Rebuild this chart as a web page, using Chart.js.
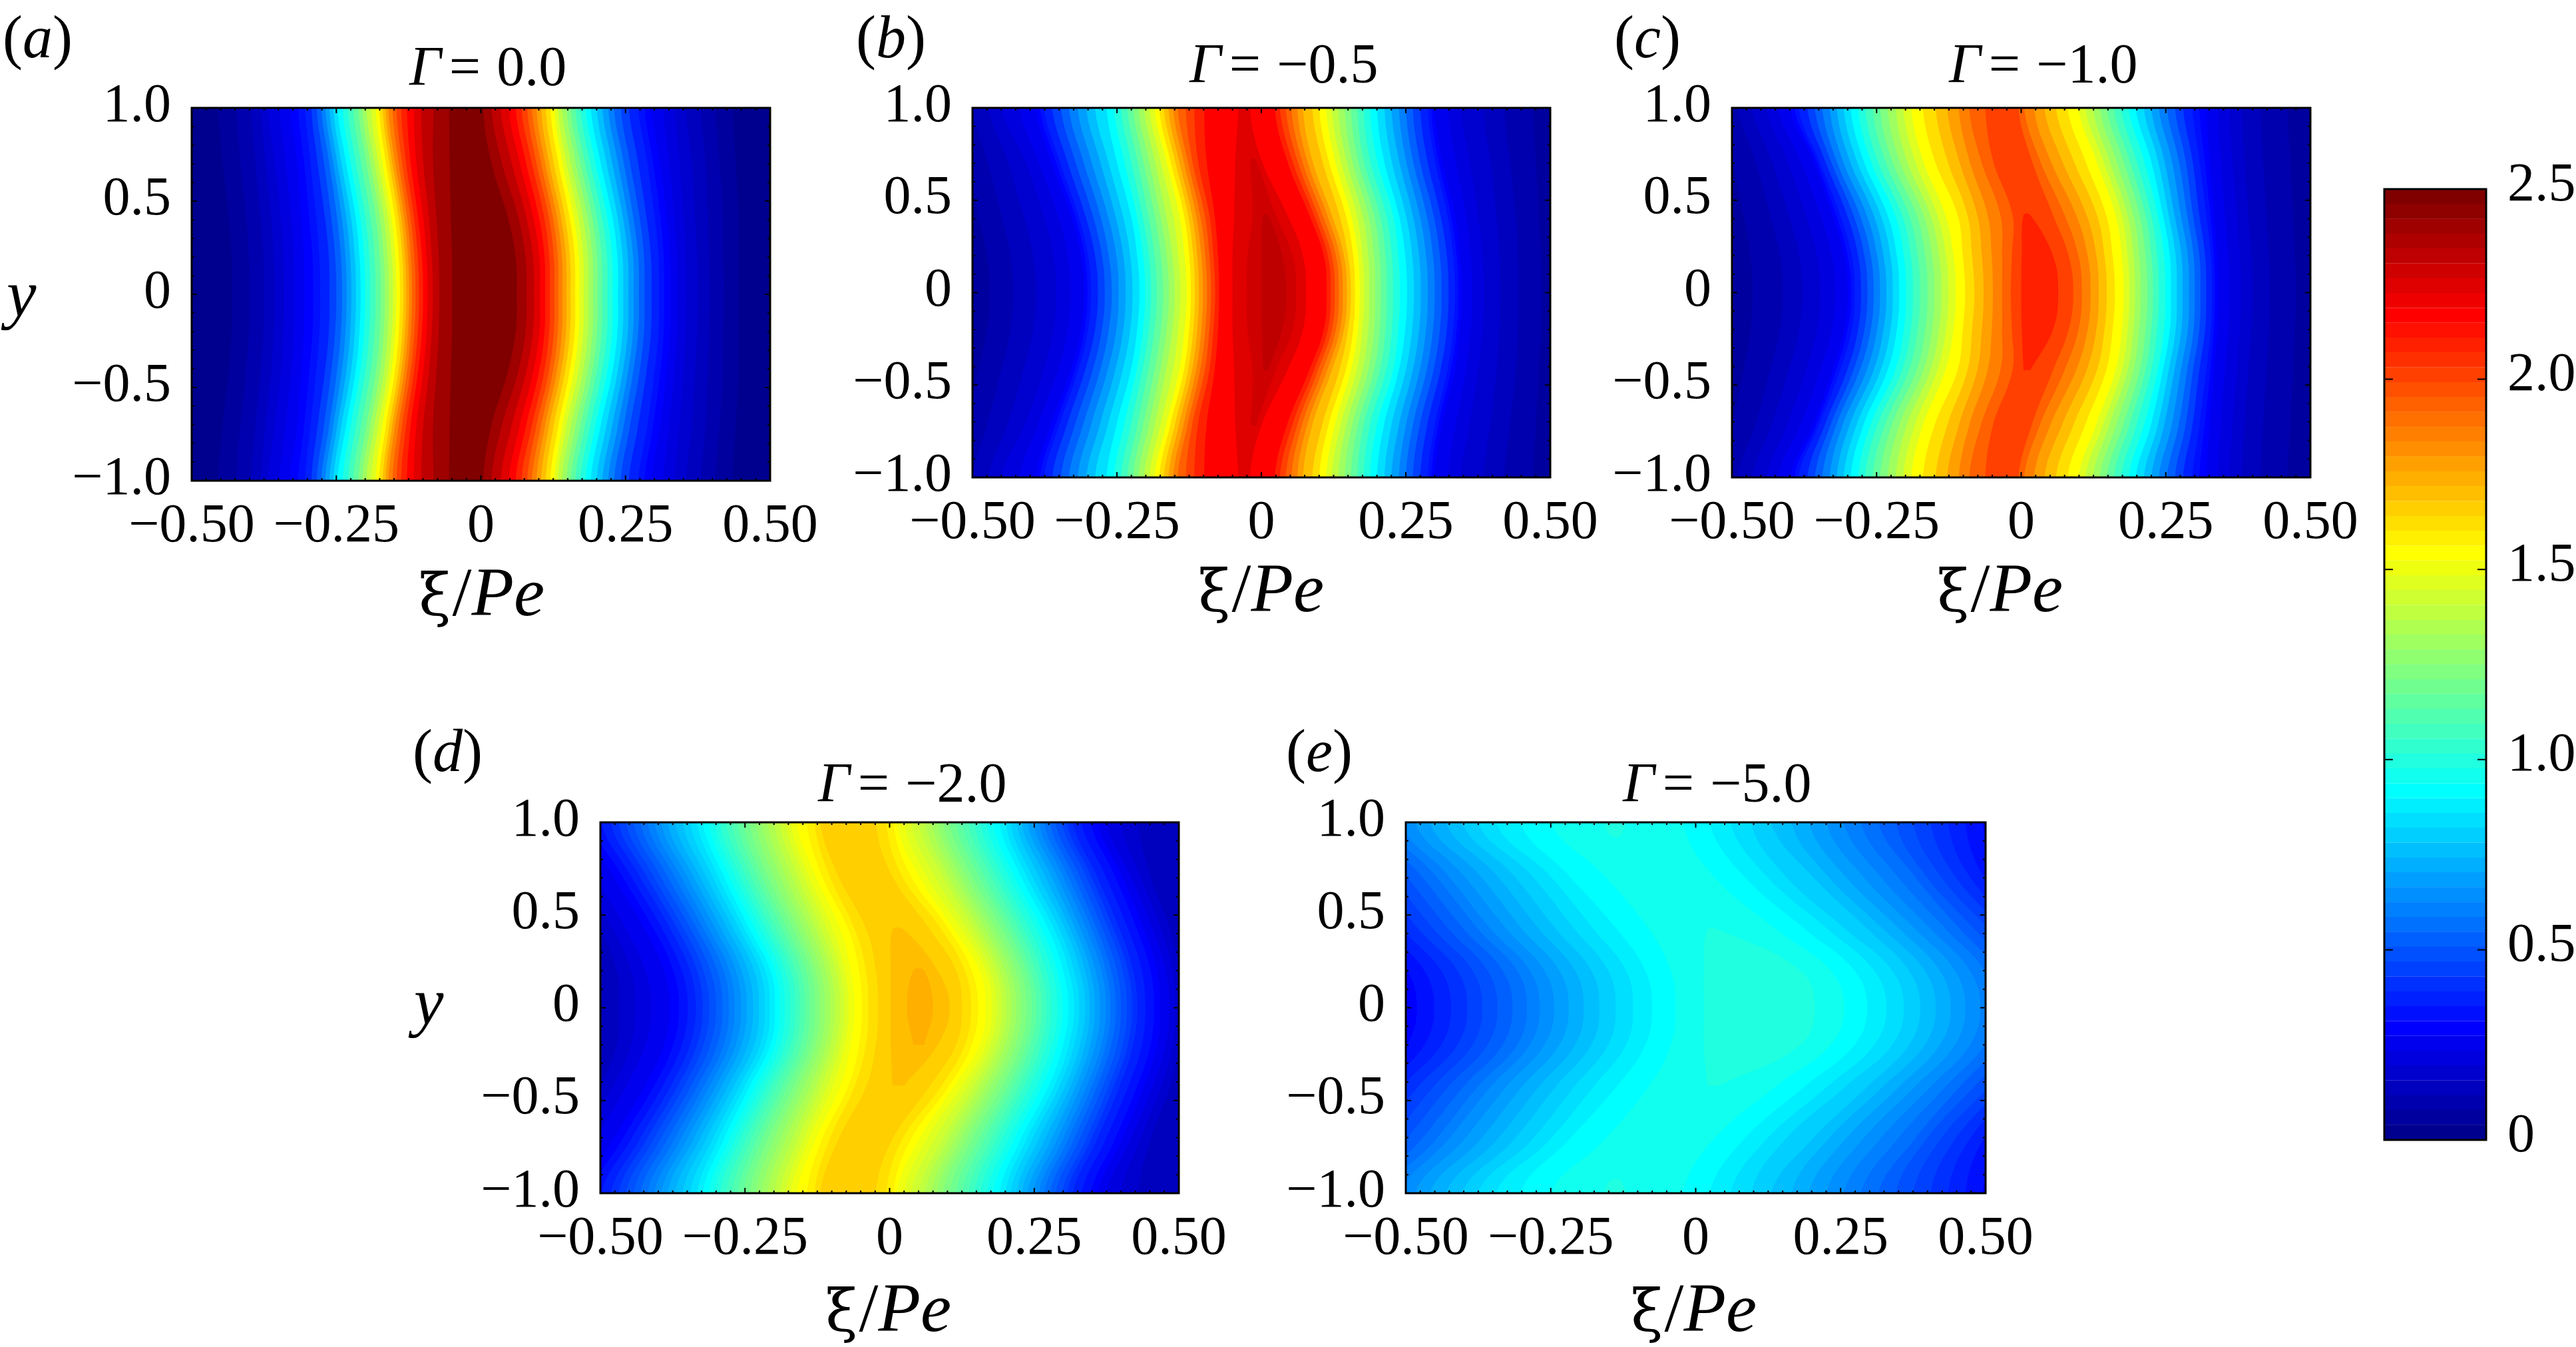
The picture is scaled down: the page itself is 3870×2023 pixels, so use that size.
<!DOCTYPE html>
<html>
<head>
<meta charset="utf-8">
<title>Contours</title>
<script src="https://cdn.jsdelivr.net/npm/chart.js@4"></script>
<style>
  html, body { margin: 0; padding: 0; background: #fff; width: 3870px; height: 2023px; overflow: hidden; }
  canvas { position: absolute; }
  .txt { position: absolute; white-space: nowrap; font-family: "Liberation Serif", serif; color: #000; line-height: 1; }
  .txt i { font-style: italic; }
</style>
</head>
<body>
<script>
// heights (y >= 0) where every contour's xi position was read; the lower half mirrors these
const yNodes = [0, 0.2, 0.42, 0.72, 1];

// x tick labels / y tick labels / colour bar labels
const xTickValues = [-0.5, -0.25, 0, 0.25, 0.5];
const xTickText = ["\u22120.50", "\u22120.25", "0", "0.25", "0.50"];
const yTickValues = [-1, -0.5, 0, 0.5, 1];
const yTickText = ["\u22121.0", "\u22120.5", "0", "0.5", "1.0"];
const barTickValues = [0, 0.5, 1, 1.5, 2, 2.5];
const barTickText = ["0", "0.5", "1.0", "1.5", "2.0", "2.5"];
const barBandCount = 64;
const barBandSize = 2.5 / barBandCount;

// Panel a, Gamma = 0.0: colour band of each contour, left and right branch positions
const bandsA = [0,1,2,3,4,5,6,7,8,9,11,13,15,17,19,21,23,25,27,29,31,33,35,37,39,41,43,45,47,49,51,53,55,57,59,61,63];
const leftA = [
  [-.9,-.9,-.9,-.9,-.9],
  [-.43,-.431,-.436,-.447,-.454],[-.4,-.401,-.406,-.416,-.423],[-.375,-.376,-.381,-.39,-.397],
  [-.357,-.358,-.363,-.373,-.38],[-.34,-.341,-.346,-.357,-.368],[-.322,-.323,-.328,-.338,-.348],
  [-.305,-.306,-.311,-.318,-.33],[-.29,-.291,-.297,-.306,-.316],[-.278,-.279,-.285,-.295,-.304],[-.262,-.263,-.27,-.283,-.293],
  [-.25,-.252,-.259,-.272,-.284],[-.24,-.242,-.249,-.263,-.276],[-.232,-.234,-.241,-.256,-.269],
  [-.224,-.226,-.233,-.249,-.262],[-.216,-.218,-.225,-.242,-.255],[-.208,-.21,-.217,-.234,-.248],
  [-.2,-.202,-.209,-.226,-.239],[-.191,-.193,-.2,-.217,-.23],[-.182,-.184,-.191,-.208,-.221],
  [-.173,-.175,-.182,-.199,-.212],[-.166,-.168,-.175,-.192,-.205],[-.159,-.161,-.168,-.185,-.198],
  [-.152,-.154,-.161,-.178,-.19],[-.146,-.148,-.155,-.171,-.182],[-.14,-.142,-.149,-.165,-.176],
  [-.134,-.136,-.143,-.159,-.17],[-.129,-.131,-.138,-.154,-.165],[-.124,-.126,-.133,-.149,-.16],
  [-.119,-.121,-.128,-.143,-.153],[-.113,-.115,-.122,-.137,-.146],[-.107,-.109,-.116,-.13,-.138],
  [-.1,-.102,-.109,-.122,-.128],[-.092,-.094,-.1,-.112,-.116],[-.083,-.085,-.09,-.1,-.103],
  [-.072,-.073,-.077,-.083,-.082],[-.05,-.05,-.052,-.054,-.055]
];
const rightA = [
  [.9,.9,.9,.9,.9],
  [.445,.445,.445,.44,.435],[.42,.419,.418,.412,.405],[.395,.394,.392,.388,.38],
  [.375,.374,.37,.364,.355],[.355,.354,.35,.343,.335],[.34,.339,.334,.325,.315],
  [.328,.327,.321,.309,.295],[.317,.316,.31,.297,.283],[.308,.307,.3,.287,.272],[.295,.294,.286,.271,.256],
  [.283,.282,.274,.257,.242],[.273,.272,.263,.246,.23],[.264,.263,.254,.236,.22],
  [.255,.254,.245,.226,.21],[.246,.245,.236,.216,.2],[.237,.236,.227,.206,.19],
  [.228,.227,.218,.197,.181],[.219,.218,.209,.188,.172],[.21,.209,.2,.179,.163],
  [.202,.201,.192,.171,.155],[.194,.193,.184,.163,.148],[.186,.185,.176,.155,.14],
  [.178,.177,.168,.147,.133],[.17,.169,.16,.14,.127],[.163,.162,.153,.133,.12],
  [.155,.154,.145,.125,.112],[.148,.147,.138,.117,.104],[.141,.14,.131,.11,.096],
  [.134,.133,.124,.103,.088],[.127,.126,.117,.095,.08],[.119,.118,.109,.087,.07],
  [.111,.11,.1,.077,.06],[.102,.101,.09,.066,.048],[.092,.09,.078,.052,.034],
  [.079,.077,.064,.035,.018],[.062,.06,.046,.017,.004]
];

// Panel b, Gamma = -0.5
const bandsB = [1,2,3,4,5,6,7,8,9,11,13,15,17,19,21,23,25,27,29,31,33,35,37,39,41,43,45,47,49,51,53,55,57,58,59];
const leftB = [
  [-.9,-.9,-.9,-.9,-.9],
  [-.47,-.475,-.49,-.51,-.53],[-.43,-.434,-.45,-.475,-.5],[-.39,-.395,-.412,-.44,-.472],[-.355,-.36,-.377,-.41,-.45],
  [-.33,-.335,-.352,-.387,-.418],[-.307,-.312,-.33,-.365,-.39],[-.301,-.306,-.323,-.357,-.383],
  [-.295,-.3,-.317,-.35,-.376],[-.283,-.288,-.305,-.337,-.362],
  [-.271,-.276,-.292,-.323,-.347],[-.259,-.264,-.279,-.309,-.333],[-.247,-.251,-.266,-.295,-.318],
  [-.235,-.239,-.253,-.28,-.303],[-.223,-.227,-.24,-.266,-.288],[-.211,-.215,-.226,-.251,-.268],
  [-.201,-.205,-.216,-.238,-.255],[-.191,-.195,-.206,-.226,-.243],[-.181,-.185,-.196,-.215,-.232],
  [-.17,-.174,-.185,-.205,-.222],[-.16,-.164,-.175,-.195,-.213],[-.15,-.154,-.165,-.185,-.203],
  [-.14,-.144,-.153,-.175,-.194],[-.129,-.133,-.142,-.165,-.185],[-.122,-.125,-.134,-.158,-.177],
  [-.115,-.118,-.127,-.15,-.169],[-.108,-.111,-.12,-.143,-.161],[-.101,-.104,-.113,-.135,-.153],
  [-.094,-.097,-.106,-.128,-.145],[-.087,-.09,-.098,-.12,-.131],[-.08,-.083,-.09,-.11,-.116],
  [-.073,-.075,-.081,-.095,-.099],[-.05,-.05,-.047,-.045,-.04],[-.025,-.024,-.015,-.018,null],
  [0,.001,.003,null,null]
];
const rightB = [
  [.9,.9,.9,.9,.9],
  [.485,.484,.48,.475,.47],[.445,.444,.44,.43,.42],[.413,.412,.407,.396,.384],[.385,.383,.375,.36,.345],
  [.365,.362,.354,.336,.323],[.347,.344,.335,.312,.3],[.341,.338,.328,.306,.294],
  [.335,.332,.322,.3,.288],[.324,.321,.31,.287,.275],
  [.312,.309,.298,.274,.262],[.3,.297,.286,.262,.25],[.288,.285,.274,.25,.238],
  [.276,.273,.262,.238,.225],[.264,.261,.25,.225,.213],[.252,.249,.238,.212,.2],
  [.24,.237,.228,.2,.188],[.228,.226,.216,.188,.177],[.217,.215,.205,.177,.166],
  [.207,.205,.195,.167,.155],[.197,.195,.185,.157,.144],[.187,.185,.175,.147,.133],
  [.178,.175,.165,.137,.122],[.17,.167,.155,.127,.112],[.162,.159,.146,.116,.1],
  [.155,.15,.135,.105,.088],[.148,.143,.122,.088,.072],[.141,.136,.114,.079,.062],
  [.134,.129,.106,.07,.052],[.127,.122,.098,.062,.042],[.12,.115,.091,.053,.032],
  [.113,.108,.083,.044,.023],[.077,.072,.045,0,-.02],[.06,.054,.025,-.01,null],
  [.044,.036,.012,null,null]
];

// Panel c, Gamma = -1.0
const bandsC = [1,2,3,4,5,6,7,8,9,11,13,15,17,19,21,23,25,27,29,31,33,35,37,39,41,43,45,47,49,51,53];
const leftC = [
  [-.9,-.9,-.9,-.9,-.9],
  [-.464,-.468,-.48,-.5,-.525],[-.412,-.417,-.434,-.46,-.49],[-.378,-.384,-.402,-.432,-.465],[-.347,-.353,-.372,-.405,-.44],
  [-.321,-.327,-.347,-.382,-.42],[-.3,-.306,-.326,-.36,-.4],[-.294,-.3,-.32,-.355,-.392],
  [-.288,-.293,-.313,-.35,-.385],[-.277,-.282,-.301,-.34,-.37],
  [-.266,-.271,-.29,-.33,-.357],[-.255,-.26,-.279,-.32,-.344],[-.244,-.249,-.267,-.309,-.331],
  [-.233,-.238,-.255,-.297,-.319],[-.222,-.226,-.243,-.285,-.307],[-.211,-.215,-.231,-.273,-.295],
  [-.199,-.203,-.218,-.261,-.282],[-.187,-.191,-.206,-.249,-.27],[-.175,-.179,-.194,-.236,-.257],
  [-.162,-.166,-.181,-.224,-.244],[-.15,-.154,-.169,-.211,-.231],[-.138,-.142,-.157,-.198,-.217],
  [-.126,-.13,-.145,-.184,-.204],[-.113,-.117,-.131,-.17,-.19],[-.097,-.101,-.11,-.15,-.17],
  [-.081,-.085,-.093,-.128,-.148],[-.065,-.068,-.076,-.108,-.128],[-.049,-.051,-.058,-.09,-.108],
  [-.033,-.033,-.036,-.07,-.09],[-.018,-.016,-.015,-.049,-.062],[0,.001,.004,null,null]
];
const rightC = [
  [.9,.9,.9,.9,.9],
  [.475,.473,.47,.465,.46],[.43,.428,.424,.418,.414],[.4,.398,.393,.386,.382],[.38,.378,.373,.365,.36],
  [.36,.358,.352,.345,.34],[.341,.339,.333,.326,.32],[.335,.333,.327,.317,.308],
  [.33,.328,.32,.308,.296],[.32,.318,.308,.296,.28],
  [.31,.308,.297,.284,.266],[.3,.298,.287,.272,.252],[.29,.288,.276,.26,.238],
  [.279,.277,.265,.247,.225],[.269,.267,.255,.236,.212],[.259,.257,.245,.224,.198],
  [.249,.247,.236,.212,.186],[.238,.235,.225,.199,.173],[.228,.225,.215,.187,.16],
  [.218,.215,.205,.176,.148],[.207,.204,.194,.164,.136],[.197,.194,.184,.152,.124],
  [.187,.184,.174,.141,.111],[.177,.174,.163,.129,.099],[.162,.158,.147,.11,.08],
  [.148,.144,.131,.09,.06],[.134,.13,.113,.07,.04],[.12,.115,.095,.05,.022],
  [.105,.099,.075,.032,.005],[.09,.082,.055,.018,-.005],[.064,.055,.016,null,null]
];

// Panel d, Gamma = -2.0
const bandsD = [3,4,5,6,7,8,9,10,11,12,13,14,15,16,17,18,19,20,21,22,23,24,25,26,27,28,29,30,31,32,33,34,35,36,37,38,39,40,41,42,43,44];
const leftD = [
  [-.9,-.9,-.9,-.9,-.9],
  [-.468,-.472,-.5,-.56,-.62],[-.44,-.447,-.478,-.535,-.59],[-.412,-.422,-.455,-.51,-.56],[-.38,-.39,-.423,-.48,-.53],
  [-.364,-.374,-.407,-.464,-.514],[-.349,-.359,-.392,-.449,-.498],[-.335,-.345,-.378,-.434,-.482],[-.323,-.333,-.366,-.422,-.469],
  [-.312,-.322,-.355,-.41,-.456],[-.3,-.31,-.343,-.398,-.443],[-.289,-.298,-.332,-.386,-.431],[-.278,-.287,-.321,-.374,-.419],
  [-.268,-.277,-.311,-.363,-.407],[-.257,-.266,-.3,-.352,-.395],[-.247,-.256,-.29,-.341,-.384],[-.236,-.245,-.279,-.33,-.371],
  [-.226,-.234,-.269,-.319,-.358],[-.216,-.224,-.259,-.308,-.345],[-.207,-.215,-.25,-.298,-.333],[-.198,-.206,-.241,-.288,-.323],
  [-.19,-.198,-.232,-.279,-.313],[-.181,-.189,-.222,-.269,-.303],[-.172,-.18,-.213,-.26,-.293],[-.163,-.171,-.204,-.25,-.283],
  [-.155,-.163,-.195,-.241,-.273],[-.146,-.154,-.185,-.231,-.263],[-.138,-.145,-.176,-.222,-.253],[-.129,-.136,-.166,-.212,-.242],
  [-.121,-.128,-.157,-.202,-.232],[-.112,-.119,-.147,-.191,-.221],[-.103,-.11,-.137,-.181,-.211],[-.095,-.102,-.127,-.17,-.2],
  [-.086,-.093,-.118,-.16,-.19],[-.078,-.085,-.108,-.15,-.18],[-.071,-.077,-.098,-.141,-.171],
  [-.061,-.067,-.085,-.129,-.16],[-.048,-.053,-.071,-.118,-.143],
  [-.037,-.041,-.06,-.105,-.13],[-.02,-.024,-.04,-.09,-.12],[.002,.002,.005,null,null],
  [.03,.041,null,null,null]
];
const rightD = [
  [.9,.9,.9,.9,.9],
  [.505,.5,.485,.45,.43],[.494,.489,.47,.432,.4],[.483,.477,.455,.415,.375],[.468,.462,.44,.4,.36],
  [.457,.451,.428,.388,.348],[.442,.436,.413,.372,.332],[.428,.421,.398,.357,.317],[.419,.412,.388,.347,.307],
  [.41,.403,.379,.338,.298],[.4,.393,.369,.327,.287],[.391,.383,.359,.317,.277],[.382,.374,.35,.307,.267],
  [.374,.366,.341,.298,.258],[.364,.356,.331,.288,.248],[.355,.347,.322,.278,.238],[.346,.338,.313,.267,.228],
  [.338,.329,.304,.256,.219],[.328,.319,.294,.245,.209],[.319,.31,.285,.235,.2],[.309,.3,.275,.225,.19],
  [.299,.29,.264,.214,.179],[.29,.281,.254,.204,.168],[.28,.271,.243,.193,.157],[.271,.262,.233,.183,.146],
  [.263,.253,.224,.173,.136],[.254,.244,.214,.162,.125],[.246,.236,.205,.152,.114],[.237,.227,.195,.141,.103],
  [.228,.218,.185,.131,.092],[.219,.209,.175,.121,.082],[.211,.2,.166,.111,.072],[.202,.191,.156,.1,.061],
  [.194,.183,.147,.09,.05],[.185,.174,.136,.076,.037],[.177,.166,.125,.062,.025],
  [.166,.155,.112,.049,.012],[.1525,.142,.103,.035,.006],
  [.141,.13,.09,.02,-.006],[.125,.115,.07,.003,-.024],[.104,.083,.025,null,null],
  [.075,.06,null,null,null]
];

// Panel e, Gamma = -5.0
const bandsE = [7,8,9,10,11,12,13,14,15,16,17,18,19,20,21,22,23,24,25];
const leftE = [
  [-.9,-.9,-.9,-.9,-.9],
  [-.481,-.498,-.564,-.641,-.721],[-.451,-.468,-.534,-.611,-.691],[-.422,-.439,-.505,-.582,-.662],
  [-.394,-.411,-.477,-.554,-.634],[-.368,-.385,-.451,-.528,-.608],[-.342,-.359,-.425,-.502,-.582],
  [-.316,-.333,-.399,-.476,-.556],[-.291,-.308,-.374,-.451,-.531],[-.269,-.286,-.352,-.429,-.509],
  [-.244,-.261,-.325,-.402,-.484],[-.219,-.235,-.298,-.374,-.459],[-.193,-.208,-.269,-.345,-.431],
  [-.166,-.18,-.24,-.316,-.403],[-.138,-.151,-.208,-.285,-.376],[-.108,-.12,-.175,-.254,-.345],
  [-.075,-.087,-.135,-.221,-.303],[-.035,-.043,-.08,-.16,-.25],[.0143,.014,.02,null,null]
];
const rightE = [
  [.9,.9,.9,.9,.9],
  [.69,.672,.607,.52,.495],[.665,.647,.582,.495,.465],[.64,.622,.557,.47,.435],
  [.615,.597,.532,.445,.405],[.59,.572,.507,.42,.375],[.565,.547,.482,.395,.345],
  [.54,.522,.457,.375,.315],[.516,.498,.433,.345,.285],[.491,.473,.407,.315,.255],
  [.465,.447,.38,.285,.225],[.44,.421,.353,.255,.195],[.414,.395,.325,.225,.165],
  [.3875,.368,.298,.198,.13],[.359,.339,.26,.152,.095],[.329,.308,.229,.119,.06],
  [.296,.274,.19,.08,.024],[.2566,.233,.14,.028,-.022],[.2058,.181,.04,null,null]
];
// small lobes of the next band touching the walls in panel e
const lobeBandE = 25;
const lobeXE = [-.162, -.15, -.13, -.117];
const lobeYE = [1.05, .94, .93, 1.05];

function jet(i) {
  const c = v => Math.max(0, Math.min(1, v));
  const r = i > 55 ? 1 - (i - 55) / 16 : c((i - 23) / 16);
  const g = i > 39 ? c(1 - (i - 39) / 16) : c((i - 7) / 16);
  const b = i > 23 ? c(1 - (i - 23) / 16) : c(0.5 + (i + 1) / 16);
  return 'rgb(' + Math.round(r * 255) + ',' + Math.round(g * 255) + ',' + Math.round(b * 255) + ')';
}

// closed outline of one contour: up the left branch, down the right one
function outline(left, right) {
  let last = yNodes.length - 1;
  while (left[last] === null) last--;
  const toWall = yNodes[last] === 1;
  const pts = [];
  if (toWall) pts.push({x: left[last], y: -1.4});
  for (let k = last; k > 0; k--) pts.push({x: left[k], y: -yNodes[k]});
  for (let k = 0; k <= last; k++) pts.push({x: left[k], y: yNodes[k]});
  if (toWall) pts.push({x: left[last], y: 1.4}, {x: right[last], y: 1.4});
  for (let k = last; k > 0; k--) pts.push({x: right[k], y: yNodes[k]});
  for (let k = 0; k <= last; k++) pts.push({x: right[k], y: -yNodes[k]});
  if (toWall) pts.push({x: right[last], y: -1.4});
  return pts;
}

function contourDataset(points, band) {
  return {
    data: points,
    showLine: true,
    fill: 'shape',
    backgroundColor: jet(band),
    borderWidth: 0,
    pointRadius: 0,
    pointHoverRadius: 0,
    tension: 0.4,
    capBezierPoints: false
  };
}

// black frame with inward ticks on all four sides
const frameTicks = {
  id: 'frameTicks',
  afterDraw(chart, args, opts) {
    const {ctx, chartArea: a} = chart;
    ctx.save();
    ctx.strokeStyle = '#000';
    ctx.lineWidth = 2;
    ctx.beginPath();
    const xs = chart.scales.x;
    if (xs.options.display !== false) {
      xs.ticks.forEach((t, i) => {
        const px = xs.getPixelForTick(i);
        const len = t.label ? opts.major : opts.minor;
        ctx.moveTo(px, a.bottom); ctx.lineTo(px, a.bottom - len);
        ctx.moveTo(px, a.top); ctx.lineTo(px, a.top + len);
      });
    }
    const ys = chart.scales.y;
    ys.ticks.forEach((t, i) => {
      const py = ys.getPixelForTick(i);
      const len = t.label ? opts.major : opts.minor;
      ctx.moveTo(a.left, py); ctx.lineTo(a.left + len, py);
      ctx.moveTo(a.right, py); ctx.lineTo(a.right - len, py);
    });
    ctx.stroke();
    ctx.lineWidth = 3;
    ctx.strokeRect(a.left, a.top, a.right - a.left, a.bottom - a.top);
    ctx.restore();
  }
};

function labelFor(values, text) {
  return v => {
    const k = values.findIndex(t => Math.abs(t - v) < 1e-6);
    return k < 0 ? '' : text[k];
  };
}

const tickFont = {family: 'Liberation Serif', size: 82};
const marginL = 215, marginT = 60, marginR = 110, marginB = 110;

function addCanvas(left, top, width, height) {
  const cv = document.createElement('canvas');
  cv.width = width; cv.height = height;
  cv.style.left = left + 'px'; cv.style.top = top + 'px';
  cv.style.width = width + 'px'; cv.style.height = height + 'px';
  document.body.appendChild(cv);
  return cv;
}

function drawPanel(box, bands, left, right, extra) {
  const w = box.r - box.l, h = box.b - box.t;
  const cv = addCanvas(box.l - marginL, box.t - marginT, w + marginL + marginR, h + marginT + marginB);
  const datasets = bands.map((b, i) => contourDataset(outline(left[i], right[i]), b));
  if (extra) datasets.push(...extra);
  // the first dataset is painted last, so the highest band goes first
  datasets.reverse();
  new Chart(cv, {
    type: 'scatter',
    data: {datasets: datasets},
    plugins: [frameTicks],
    options: {
      responsive: false,
      animation: false,
      devicePixelRatio: 1,
      layout: {padding: {top: marginT, right: marginR, left: 0, bottom: 0}},
      plugins: {
        legend: {display: false},
        tooltip: {enabled: false},
        frameTicks: {major: 8, minor: 4}
      },
      scales: {
        x: {
          type: 'linear', min: -0.5, max: 0.5,
          grid: {display: false, drawTicks: false},
          border: {display: false},
          afterFit(s) { s.height = marginB; s.paddingLeft = 0; s.paddingRight = 0; },
          ticks: {
            stepSize: 0.025, autoSkip: false, maxRotation: 0, padding: 20, color: '#000', font: tickFont,
            callback: labelFor(xTickValues, xTickText)
          }
        },
        y: {
          type: 'linear', min: -1, max: 1,
          grid: {display: false, drawTicks: false},
          border: {display: false},
          afterFit(s) { s.width = marginL; s.paddingTop = 0; s.paddingBottom = 0; },
          ticks: {
            stepSize: 0.1, autoSkip: false, padding: 31, labelOffset: -2, color: '#000', font: tickFont,
            callback: labelFor(yTickValues, yTickText)
          }
        }
      }
    }
  });
}

function drawColorbar(box) {
  const w = box.r - box.l, h = box.b - box.t;
  const cv = addCanvas(box.l - 10, box.t - 60, w + 10 + 140, h + 60 + 60);
  const datasets = [];
  for (let i = 0; i < barBandCount; i++) {
    datasets.push({
      data: [barBandSize],
      backgroundColor: jet(i),
      borderColor: jet(i),
      borderWidth: 0.5,
      categoryPercentage: 1,
      barPercentage: 1
    });
  }
  new Chart(cv, {
    type: 'bar',
    data: {labels: [''], datasets: datasets},
    plugins: [frameTicks],
    options: {
      responsive: false,
      animation: false,
      devicePixelRatio: 1,
      layout: {padding: {top: 60, left: 10, bottom: 60, right: 0}},
      plugins: {
        legend: {display: false},
        tooltip: {enabled: false},
        frameTicks: {major: 13, minor: 0}
      },
      scales: {
        x: {stacked: true, display: false},
        y: {
          stacked: true, position: 'right', min: 0, max: 2.5,
          grid: {display: false, drawTicks: false},
          border: {display: false},
          afterFit(s) { s.width = 140; s.paddingTop = 0; s.paddingBottom = 0; },
          ticks: {
            stepSize: 0.5, padding: 32, labelOffset: -5, color: '#000', font: tickFont,
            callback: labelFor(barTickValues, barTickText)
          }
        }
      }
    }
  });
}

drawPanel({l: 288, t: 162, r: 1157, b: 722}, bandsA, leftA, rightA);
drawPanel({l: 1461, t: 162, r: 2329, b: 717}, bandsB, leftB, rightB);
drawPanel({l: 2602, t: 162, r: 3471, b: 717}, bandsC, leftC, rightC);
drawPanel({l: 902, t: 1235, r: 1771, b: 1792}, bandsD, leftD, rightD);
const lobeTop = lobeXE.map((x, i) => ({x: x, y: lobeYE[i]}));
const lobeBottom = lobeXE.map((x, i) => ({x: x, y: -lobeYE[i]}));
drawPanel({l: 2112, t: 1235, r: 2983, b: 1792}, bandsE, leftE, rightE,
  [contourDataset(lobeTop, lobeBandE), contourDataset(lobeBottom, lobeBandE)]);
drawColorbar({l: 3582, t: 284, r: 3735, b: 1712});

// mixed roman / italic labels
function addText(html, x, baseline, size) {
  const d = document.createElement('div');
  d.className = 'txt';
  d.innerHTML = html;
  d.style.left = x + 'px';
  d.style.top = (baseline - 0.838 * size) + 'px';
  d.style.fontSize = size + 'px';
  document.body.appendChild(d);
}
const gammaText = v => '<i>\u0393</i><span style="margin-left:12px">=</span><span style="margin-left:24px">' + v + '</span>';
const xiText = '<span style="font-family:\'DejaVu Serif\';font-size:88px">\u03be</span><span style="margin-left:2px">/</span><i>Pe</i>';

addText('(<i>a</i>)', 4, 86, 90);
addText('(<i>b</i>)', 1286, 86, 90);
addText('(<i>c</i>)', 2425, 86, 90);
addText('(<i>d</i>)', 620, 1158, 90);
addText('(<i>e</i>)', 1932, 1158, 90);

addText(gammaText('0.0'), 615, 128, 84);
addText(gammaText('\u22120.5'), 1787, 124, 84);
addText(gammaText('\u22121.0'), 2928, 124, 84);
addText(gammaText('\u22122.0'), 1229, 1204, 84);
addText(gammaText('\u22125.0'), 2438, 1204, 84);

addText(xiText, 629, 924, 104);
addText(xiText, 1800, 918, 104);
addText(xiText, 2910, 918, 104);
addText(xiText, 1240, 1999, 104);
addText(xiText, 2450, 1999, 104);

addText('<i>y</i>', 10, 476, 100);
addText('<i>y</i>', 622, 1539, 100);
</script>
</body>
</html>
